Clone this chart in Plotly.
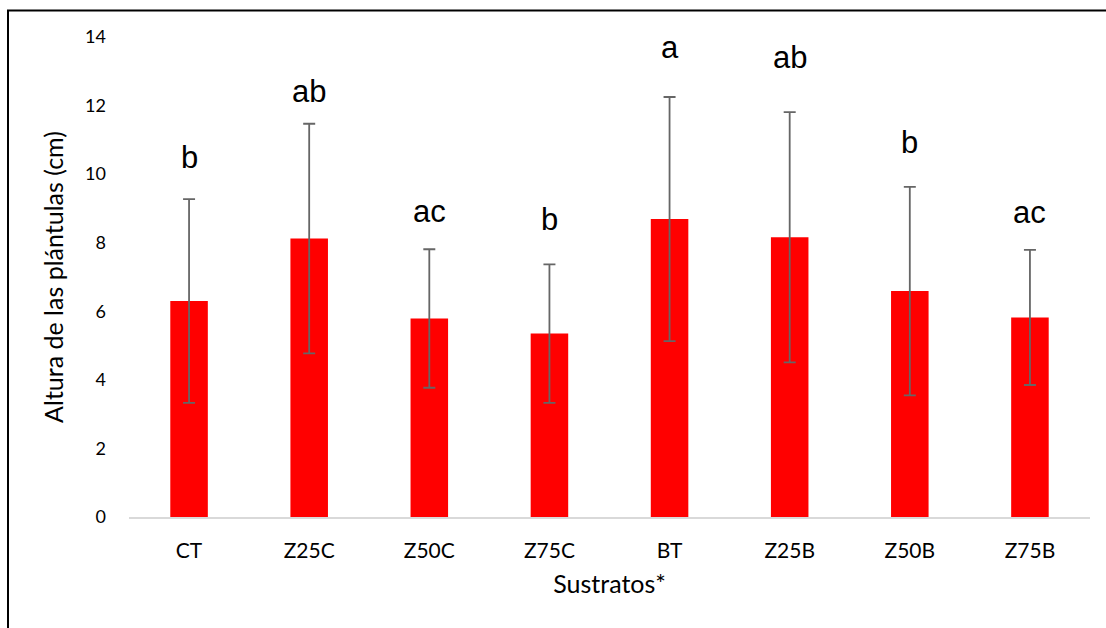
import plotly.graph_objects as go

# Substrate treatments and mean seedling height (cm) with standard deviation
sustratos = ["CT", "Z25C", "Z50C", "Z75C", "BT", "Z25B", "Z50B", "Z75B"]
altura = [6.30, 8.12, 5.79, 5.35, 8.69, 8.16, 6.59, 5.82]
desv = [2.97, 3.35, 2.02, 2.02, 3.56, 3.65, 3.04, 1.97]

# Significance letters and the height at which each letter sits
letras = ["b", "ab", "ac", "b", "a", "ab", "b", "ac"]
letras_y = [10.13, 12.06, 8.55, 8.32, 13.34, 13.03, 10.57, 8.52]

W, H = 1106, 628
ML, MR, MT, MB = 129, 16, 37, 111
PW, PH = W - ML - MR, H - MT - MB

fig = go.Figure()
fig.add_trace(go.Bar(
    x=sustratos,
    y=altura,
    marker=dict(color="#ff0000", line=dict(width=0)),
    width=0.3125,
    error_y=dict(type="data", array=desv, visible=True,
                 color="#666666", thickness=1.8, width=6),
    showlegend=False,
))

for s, t, ly in zip(sustratos, letras, letras_y):
    fig.add_annotation(
        x=s, y=ly, text=t, showarrow=False,
        xanchor="center", yanchor="bottom", yshift=-7,
        font=dict(family="Liberation Sans, Arial", size=31, color="#000000"),
    )

# Outer frame of the chart area
def px_to_paper_x(px):
    return (px - ML) / PW

def px_to_paper_y(py):
    return (H - MB - py) / PH

fig.add_shape(
    type="rect", xref="paper", yref="paper",
    x0=px_to_paper_x(8), x1=px_to_paper_x(W + 10),
    y0=px_to_paper_y(H + 10), y1=px_to_paper_y(10.5),
    line=dict(color="#000000", width=2), fillcolor="rgba(0,0,0,0)",
    layer="above",
)

fig.update_layout(
    width=W, height=H,
    margin=dict(l=ML, r=MR, t=MT, b=MB, pad=0),
    paper_bgcolor="#ffffff",
    plot_bgcolor="#ffffff",
    font=dict(family="Lato, Carlito, Calibri, sans-serif", color="#000000"),
    bargap=0.6875,
    xaxis=dict(
        showgrid=False, zeroline=False,
        showline=True, linecolor="#d9d9d9", linewidth=1.5,
        ticks="", tickfont=dict(size=21, color="#000000"),
        ticklabelstandoff=14,
        title=dict(text="Sustratos*", font=dict(size=25, color="#000000"), standoff=15),
    ),
    yaxis=dict(
        range=[0, 14], dtick=2, tick0=0,
        showgrid=False, zeroline=False, showline=False,
        ticks="", tickfont=dict(size=18, color="#000000"),
        ticklabelstandoff=22,
        title=dict(text="Altura de las plántulas (cm)", font=dict(size=25, color="#000000"), standoff=14),
    ),
)

fig.write_html("out.html")
